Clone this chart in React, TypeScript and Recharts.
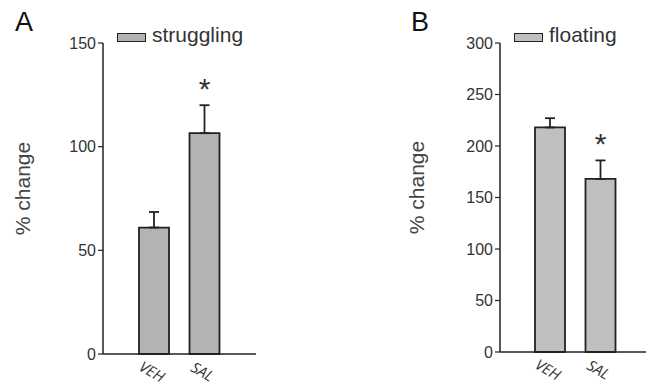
import { Bar, BarChart, ErrorBar, LabelList, Legend, XAxis, YAxis } from "recharts";

// groups + values (mean, SEM)
const GROUPS = ["VEH", "SAL"];
const STRUGGLING = [61, 106.5];
const STRUGGLING_SEM = [7.5, 13.5];
const FLOATING = [218, 168];
const FLOATING_SEM = [9, 18];
const SIGNIFICANT = ["", "*"];
const TICKS_A = [0, 50, 100, 150];
const TICKS_B = [0, 50, 100, 150, 200, 250, 300];

const FONT = "'Liberation Sans', Arial, sans-serif";
const INK = "#222";

type PanelProps = {
  left: number;
  width: number;
  axisX: number;
  plotRight: number;
  plotBottom: number;
  padL: number;
  padR: number;
  letter: string;
  letterX: number;
  labelX: number;
  legendX: number;
  name: string;
  means: number[];
  sems: number[];
  max: number;
  ticks: number[];
  fill: string;
};

function XTick({ x, y, payload }: any) {
  return (
    <text
      x={x - 2}
      y={y + 9}
      transform={`rotate(30 ${x - 2} ${y + 9})`}
      textAnchor="middle"
      dominantBaseline="central"
      fontFamily="'Open Sans', sans-serif"
      fontStyle="italic"
      fontSize={15}
      fill="#333"
    >
      {payload.value}
    </text>
  );
}

function Panel(p: PanelProps) {
  const rows = GROUPS.map((g, i) => ({
    group: g,
    mean: p.means[i],
    err: [0, p.sems[i]],
    sig: SIGNIFICANT[i],
  }));

  const star = (props: any) => {
    const vb = props.viewBox ?? props;
    const i = props.index;
    if (!SIGNIFICANT[i]) return null;
    const errPx = (vb.height * p.sems[i]) / p.means[i];
    const cx = vb.x + vb.width / 2;
    return (
      <text
        x={cx}
        y={vb.y - errPx - 6}
        textAnchor="middle"
        fontFamily={FONT}
        fontSize={30}
        fill="#333"
      >
        {SIGNIFICANT[i]}
      </text>
    );
  };

  return (
    <div style={{ position: "absolute", left: p.left, top: 0, width: p.width, height: 385 }}>
      <div
        style={{
          position: "absolute",
          left: p.letterX,
          top: 9,
          fontFamily: FONT,
          fontSize: 27,
          lineHeight: "27px",
          color: "#111",
        }}
      >
        {p.letter}
      </div>
      <BarChart
        width={p.width}
        height={385}
        data={rows}
        margin={{ top: 43, right: p.left + p.width - p.plotRight, left: 0, bottom: 0 }}
      >
        <XAxis
          dataKey="group"
          height={385 - p.plotBottom}
          padding={{ left: p.padL, right: p.padR }}
          tickLine={false}
          axisLine={{ stroke: INK, strokeWidth: 1.5 }}
          tick={<XTick />}
          interval={0}
        />
        <YAxis
          width={p.axisX - p.left}
          domain={[0, p.max]}
          ticks={p.ticks}
          interval={0}
          tickSize={5}
          tickMargin={2}
          tickLine={{ stroke: INK, strokeWidth: 1.2 }}
          axisLine={{ stroke: INK, strokeWidth: 1.5 }}
          tick={{ fill: "#333", fontSize: 16, fontFamily: FONT }}
          label={{
            content: (lp: any) => {
              const vb = lp.viewBox;
              const cy = vb.y + vb.height / 2 - 10;
              return (
                <text
                  x={p.labelX}
                  y={cy}
                  transform={`rotate(-90 ${p.labelX} ${cy})`}
                  textAnchor="middle"
                  dominantBaseline="central"
                  fontFamily={FONT}
                  fontSize={21}
                  fill="#444"
                >
                  % change
                </text>
              );
            },
          }}
        />
        <Legend
          layout="horizontal"
          verticalAlign="middle"
          wrapperStyle={{ left: p.legendX, top: 24, width: "auto" }}
          content={() => (
            <div style={{ display: "flex", alignItems: "flex-start", fontFamily: FONT }}>
              <div
                style={{
                  marginTop: 9,
                  width: 29,
                  height: 9,
                  boxSizing: "border-box",
                  background: p.fill,
                  border: `1.5px solid ${INK}`,
                }}
              />
              <span style={{ marginLeft: 6, fontSize: 21, lineHeight: "21px", color: "#333" }}>
                {p.name}
              </span>
            </div>
          )}
        />
        <Bar
          dataKey="mean"
          name={p.name}
          barSize={30}
          fill={p.fill}
          stroke={INK}
          strokeWidth={1.8}
          isAnimationActive={false}
        >
          <ErrorBar dataKey="err" width={5} stroke={INK} strokeWidth={1.8} isAnimationActive={false} />
          <LabelList dataKey="sig" content={star} />
        </Bar>
      </BarChart>
    </div>
  );
}

export default function App() {
  return (
    <div style={{ position: "absolute", left: 0, top: 0, width: 646, height: 385, background: "#fff" }}>
      <Panel
        left={0}
        width={323}
        axisX={103}
        plotRight={256}
        plotBottom={354}
        padL={26}
        padR={26}
        letter="A"
        letterX={15}
        labelX={22}
        legendX={117}
        name="struggling"
        means={STRUGGLING}
        sems={STRUGGLING_SEM}
        max={150}
        ticks={TICKS_A}
        fill="#b3b3b3"
      />
      <Panel
        left={323}
        width={323}
        axisX={500}
        plotRight={646}
        plotBottom={352}
        padL={25}
        padR={20}
        letter="B"
        letterX={88}
        labelX={93}
        legendX={191}
        name="floating"
        means={FLOATING}
        sems={FLOATING_SEM}
        max={300}
        ticks={TICKS_B}
        fill="#c0c0c0"
      />
    </div>
  );
}
